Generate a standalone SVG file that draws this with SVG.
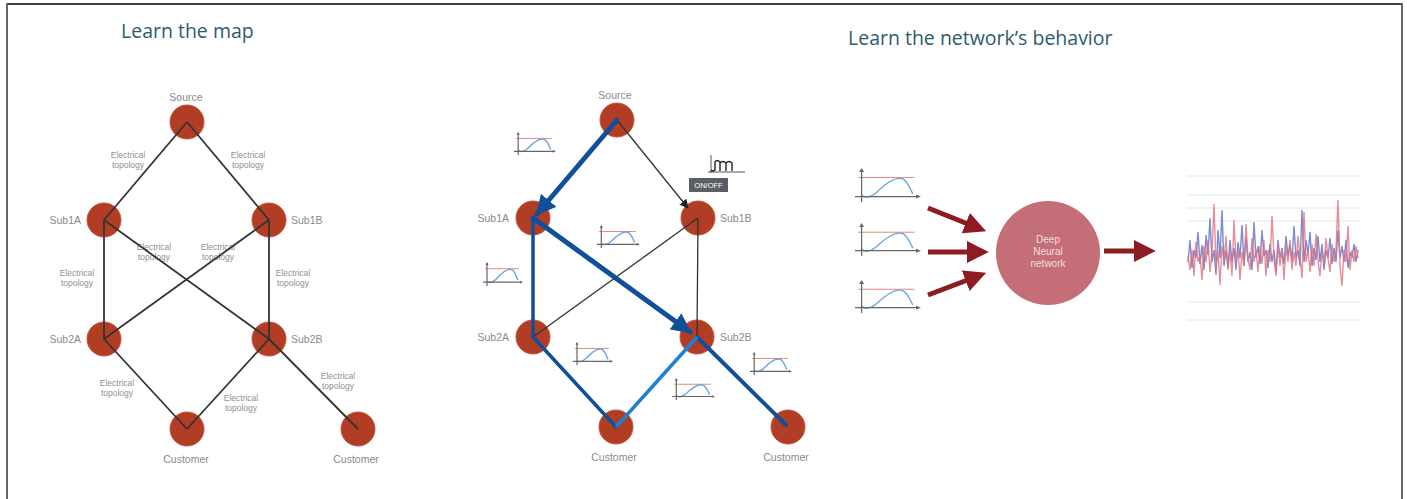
<svg xmlns="http://www.w3.org/2000/svg" width="1407" height="499" viewBox="0 0 1407 499">
<style>
.title{font-family:"Open Sans","Liberation Sans",sans-serif;font-size:19.5px;fill:#2f5b6e}
.nl{font-family:"Liberation Sans",Arial,sans-serif;font-size:10.5px;fill:#8a8a8a}
.el{font-family:"Liberation Sans",Arial,sans-serif;font-size:8.5px;fill:#8f8f8f;text-anchor:middle}
.node{fill:#b23d25;stroke:#c2553d;stroke-width:1}
.edge{stroke:#333;stroke-width:1.8;fill:none}
.thin{stroke:#333;stroke-width:1.3;fill:none}
.blue{stroke:#10509a;fill:none;stroke-linecap:round}
.lblue{stroke:#1f7fd0;fill:none;stroke-width:3.5}
.dr{stroke:#8c1b22;stroke-width:5;fill:none}
.grid{stroke:#e6e6e6;stroke-width:1}
</style>
<defs>
<marker id="ab" viewBox="0 0 10 10" refX="9" refY="5" markerWidth="4" markerHeight="4" orient="auto" markerUnits="strokeWidth"><path d="M0,0 L10,5 L0,10 z" fill="#10509a"/></marker>
<marker id="ak" viewBox="0 0 10 10" refX="9" refY="5" markerWidth="7" markerHeight="7" orient="auto" markerUnits="strokeWidth"><path d="M0,0 L10,5 L0,10 z" fill="#222"/></marker>
<marker id="ar" viewBox="0 0 10 10" refX="6" refY="5" markerWidth="4.4" markerHeight="4.4" orient="auto" markerUnits="strokeWidth"><path d="M0,0 L10,5 L0,10 z" fill="#8c1b22"/></marker>
<symbol id="chart" viewBox="0 0 40 25" preserveAspectRatio="none">
<line x1="2" y1="7" x2="36" y2="7" stroke="#e88a7e" stroke-width="1" vector-effect="non-scaling-stroke"/>
<path d="M4,20 C7,23 10,21 13,18 C18,12 24,6 29,8 C32,10 33,14 35,19" stroke="#6aa6dc" stroke-width="1.4" fill="none" vector-effect="non-scaling-stroke"/>
<line x1="4" y1="25" x2="4" y2="1" stroke="#666" stroke-width="1.2" vector-effect="non-scaling-stroke"/>
<path d="M2.5,3 L4,0 L5.5,3 z" fill="#666"/>
<line x1="0" y1="21" x2="38" y2="21" stroke="#666" stroke-width="1.2" vector-effect="non-scaling-stroke"/>
<path d="M37,19.5 L40,21 L37,22.5 z" fill="#666"/>
</symbol>
</defs>
<rect width="1407" height="499" fill="#fff"/>
<path d="M7,499 V4 H1402 V499" fill="none" stroke="#666" stroke-width="2"/>
<path d="M8,4 H1401" stroke="#333" stroke-width="1.5"/>

<text class="title" x="121" y="38">Learn the map</text>
<text class="title" x="848" y="45">Learn the network’s behavior</text>

<!-- LEFT DIAGRAM -->
<g id="left-labels">
<text class="el" x="128" y="158">Electrical<tspan x="128" dy="10">topology</tspan></text>
<text class="el" x="248" y="158">Electrical<tspan x="248" dy="10">topology</tspan></text>
<text class="el" x="154" y="250">Electrical<tspan x="154" dy="10">topology</tspan></text>
<text class="el" x="218" y="250">Electrical<tspan x="218" dy="10">topology</tspan></text>
<text class="el" x="77" y="276">Electrical<tspan x="77" dy="10">topology</tspan></text>
<text class="el" x="293" y="276">Electrical<tspan x="293" dy="10">topology</tspan></text>
<text class="el" x="117" y="386">Electrical<tspan x="117" dy="10">topology</tspan></text>
<text class="el" x="241" y="401">Electrical<tspan x="241" dy="10">topology</tspan></text>
<text class="el" x="338" y="379">Electrical<tspan x="338" dy="10">topology</tspan></text>
</g>
<g id="l-source"><circle class="node" cx="187" cy="122" r="17"/><text class="nl" x="186" y="101" text-anchor="middle">Source</text></g>
<g id="l-sub1a"><circle class="node" cx="104" cy="220" r="17"/><text class="nl" x="81" y="224" text-anchor="end">Sub1A</text></g>
<g id="l-sub1b"><circle class="node" cx="269" cy="220" r="17"/><text class="nl" x="291" y="224">Sub1B</text></g>
<g id="l-sub2a"><circle class="node" cx="104" cy="339" r="17"/><text class="nl" x="81" y="343" text-anchor="end">Sub2A</text></g>
<g id="l-sub2b"><circle class="node" cx="269" cy="339" r="17"/><text class="nl" x="291" y="343">Sub2B</text></g>
<g id="l-cust1"><circle class="node" cx="187" cy="429" r="17"/><text class="nl" x="186" y="463" text-anchor="middle">Customer</text></g>
<g id="l-cust2"><circle class="node" cx="358" cy="429" r="17"/><text class="nl" x="356" y="463" text-anchor="middle">Customer</text></g>
<g id="left-connectors">
<line class="edge" x1="187" y1="122" x2="104" y2="220"/>
<line class="edge" x1="187" y1="122" x2="269" y2="220"/>
<line class="edge" x1="104" y1="220" x2="104" y2="339"/>
<line class="edge" x1="104" y1="220" x2="269" y2="339"/>
<line class="edge" x1="269" y1="220" x2="104" y2="339"/>
<line class="edge" x1="269" y1="220" x2="269" y2="339"/>
<line class="edge" x1="104" y1="339" x2="187" y2="429"/>
<line class="edge" x1="269" y1="339" x2="187" y2="429"/>
<line class="edge" x1="269" y1="339" x2="358" y2="429"/>
</g>

<!-- MIDDLE DIAGRAM -->
<g id="m-source"><circle class="node" cx="617" cy="120" r="17"/><text class="nl" x="615" y="99" text-anchor="middle">Source</text></g>
<g id="m-sub1a"><circle class="node" cx="533" cy="218" r="17"/><text class="nl" x="509" y="222" text-anchor="end">Sub1A</text></g>
<g id="m-sub1b"><circle class="node" cx="698" cy="218" r="17"/><text class="nl" x="720" y="222">Sub1B</text></g>
<g id="m-sub2a"><circle class="node" cx="533" cy="337" r="17"/><text class="nl" x="509" y="341" text-anchor="end">Sub2A</text></g>
<g id="m-sub2b"><circle class="node" cx="697" cy="337" r="17"/><text class="nl" x="720" y="341">Sub2B</text></g>
<g id="m-cust1"><circle class="node" cx="616" cy="427" r="17"/><text class="nl" x="614" y="461" text-anchor="middle">Customer</text></g>
<g id="m-cust2"><circle class="node" cx="788" cy="427" r="17"/><text class="nl" x="786" y="461" text-anchor="middle">Customer</text></g>

<g id="middle-connectors">
<line class="thin" x1="617" y1="120" x2="688" y2="208" marker-end="url(#ak)"/>
<line class="thin" x1="698" y1="218" x2="533" y2="337"/>
<line class="thin" x1="698" y1="218" x2="697" y2="337"/>
<line class="blue" stroke-width="5" x1="617" y1="120" x2="537" y2="214" marker-end="url(#ab)"/>
<polyline class="blue" stroke-width="3.5" points="533,218 533,337 616,427"/>
<line class="blue" stroke-width="5" x1="533" y1="218" x2="690" y2="332" marker-end="url(#ab)"/>
<line class="blue" stroke-width="4" x1="697" y1="337" x2="786" y2="425"/>
<line class="lblue" x1="616" y1="427" x2="697" y2="337"/>
</g>

<g id="middle-charts">
<use href="#chart" x="514" y="132" width="42" height="23"/>
<use href="#chart" x="597" y="225" width="43" height="23"/>
<use href="#chart" x="483" y="262" width="40" height="24"/>
<use href="#chart" x="573" y="342" width="40" height="23"/>
<use href="#chart" x="672" y="378" width="43" height="22"/>
<use href="#chart" x="750" y="352" width="42" height="23"/>
</g>

<g id="onoff">
<path d="M711,155 V173 M708,172 H745" stroke="#555" stroke-width="1" fill="none"/>
<path d="M711,170 Q713,172 715,170 V162 Q717,159 720,162 V171 M720,170 V163 Q723,160 726,163 V171 M726,170 V163 Q729,160 732,163 V171" stroke="#222" stroke-width="1.4" fill="none"/>
<rect x="689" y="178" width="39" height="14" fill="#5a5f66"/>
<text x="708.5" y="188" font-family="Liberation Sans,Arial,sans-serif" font-size="7.5" fill="#fff" text-anchor="middle">ON/OFF</text>
</g>

<!-- RIGHT -->
<g id="input-charts">
<use href="#chart" x="855" y="168" width="66" height="34"/>
<use href="#chart" x="855" y="223" width="66" height="33"/>
<use href="#chart" x="855" y="280" width="66" height="33"/>
</g>
<g id="dnn"><circle cx="1048" cy="253" r="52" fill="#c46e78"/>
<text x="1048" y="243" font-family="Liberation Sans,Arial,sans-serif" font-size="10" fill="#f3dede" text-anchor="middle">Deep<tspan x="1048" dy="12">Neural</tspan><tspan x="1048" dy="12">network</tspan></text></g>
<g id="red-arrows">
<line class="dr" x1="928" y1="208" x2="978" y2="228" marker-end="url(#ar)"/>
<line class="dr" x1="928" y1="252" x2="980" y2="252" marker-end="url(#ar)"/>
<line class="dr" x1="928" y1="295" x2="978" y2="276" marker-end="url(#ar)"/>
<line class="dr" x1="1104" y1="251" x2="1147" y2="251" marker-end="url(#ar)"/>
</g>
<g id="output-chart">
<line class="grid" x1="1187" y1="176" x2="1360" y2="176"/>
<line class="grid" x1="1187" y1="195" x2="1360" y2="195"/>
<line class="grid" x1="1187" y1="208" x2="1360" y2="208"/>
<line class="grid" x1="1187" y1="221" x2="1360" y2="221"/>
<line class="grid" x1="1187" y1="302" x2="1360" y2="302"/>
<line class="grid" x1="1187" y1="320" x2="1360" y2="320"/>
<polyline fill="none" stroke="#6677c8" stroke-width="1.4" opacity="0.85" points="1188,262 1190,240 1192,268 1194,250 1196,258 1198,232 1200,264 1202,245 1204,270 1206,235 1208,255 1210,218 1212,262 1214,250 1216,275 1218,230 1220,258 1222,210 1224,266 1226,250 1228,268 1230,240 1232,262 1234,248 1236,270 1238,242 1240,258 1242,225 1244,266 1246,238 1248,262 1250,252 1252,270 1254,222 1256,258 1258,246 1260,264 1262,230 1264,256 1266,250 1268,268 1270,244 1272,262 1274,250 1276,272 1278,240 1280,258 1282,248 1284,264 1286,236 1288,256 1290,244 1292,262 1294,226 1296,258 1298,250 1300,266 1302,210 1304,262 1306,240 1308,254 1310,232 1312,266 1314,248 1316,260 1318,236 1320,262 1322,244 1324,270 1326,250 1328,258 1330,238 1332,264 1334,248 1336,262 1338,230 1340,258 1342,246 1344,262 1346,240 1348,268 1350,252 1352,258 1354,244 1356,262 1358,250"/>
<polyline fill="none" stroke="#e0707e" stroke-width="1.4" opacity="0.8" points="1188,256 1190,270 1192,250 1194,276 1196,242 1198,262 1200,255 1202,280 1204,246 1206,262 1208,240 1210,272 1212,252 1214,204 1216,268 1218,250 1220,285 1222,246 1224,262 1226,236 1228,270 1230,250 1232,276 1234,220 1236,262 1238,248 1240,280 1242,252 1244,266 1246,224 1248,258 1250,270 1252,238 1254,262 1256,250 1258,272 1260,246 1262,264 1264,240 1266,276 1268,250 1270,262 1272,216 1274,258 1276,276 1278,244 1280,266 1282,250 1284,280 1286,246 1288,262 1290,240 1292,270 1294,252 1296,266 1298,236 1300,258 1302,278 1304,212 1306,262 1308,250 1310,272 1312,244 1314,266 1316,234 1318,260 1320,276 1322,250 1324,264 1326,238 1328,258 1330,272 1332,244 1334,262 1336,250 1338,200 1340,266 1342,286 1344,250 1346,262 1348,226 1350,270 1352,250 1354,262 1356,246 1358,258"/>
</g>
</svg>
